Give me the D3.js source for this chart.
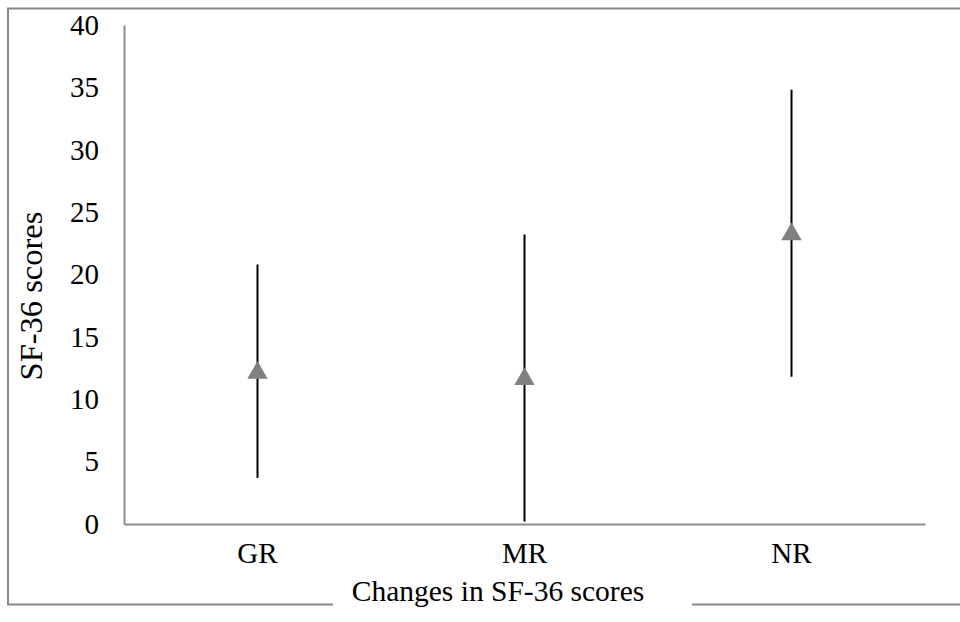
<!DOCTYPE html>
<html>
  <head>
    <script src="https://d3js.org/d3.v7.min.js"></script>
    <title>Changes in SF-36 scores</title>
    <style>
      body { margin: 0; background: #fff; }
      svg text { font-family: 'Liberation Serif', 'Times New Roman', Times, 'DejaVu Serif', serif !important; fill: #000; }
    </style>
  </head>
  <body>
  <svg width="960" height="622"></svg>

  <script>
      // data
      var groups = ['GR', 'MR', 'NR'];
      var means = [12.2, 11.7, 23.3];
      var lows = [3.7, 0.2, 11.8];
      var highs = [20.8, 23.2, 34.8];
      var yTicks = [0, 5, 10, 15, 20, 25, 30, 35, 40];

      var svg = d3.select('svg');
      var margin = { left: 124, right: 35, top: 25, bottom: 98 };
      var w = 960, h = 622;
      var innerWidth = w - margin.left - margin.right;
      var innerHeight = h - margin.top - margin.bottom;
      var fs = 29;

      // outer frame (right edge runs past the window)
      var frame = svg.append('g')
        .attr('stroke', '#888')
        .attr('stroke-width', 2)
        .attr('fill', 'none');
      frame.append('path').attr('d', 'M333,604.5 H8 V8.5 H1000');
      frame.append('path').attr('d', 'M692,604.5 H1000');

      var g = svg.append('g')
        .attr('transform', `translate (${margin.left}, ${margin.top})`);

      var xScale = d3.scaleBand()
        .domain(groups)
        .range([0, innerWidth]);

      var yScale = d3.scaleLinear()
        .domain([0, 40])
        .range([innerHeight, 0]);

      var yAxis = d3.axisLeft(yScale)
        .tickValues(yTicks)
        .tickSize(0)
        .tickPadding(25);

      var xAxis = d3.axisBottom(xScale)
        .tickSize(0)
        .tickPadding(18);

      g.append('g')
        .attr('class', 'yAxis')
        .call(yAxis)
        .attr('font-size', fs)
        .call(a => a.select('.domain').attr('stroke', '#8c8c8c').attr('stroke-width', 2));

      g.append('g')
        .attr('class', 'xAxis')
        .attr('transform', `translate (0, ${innerHeight})`)
        .call(xAxis)
        .attr('font-size', fs)
        .call(a => a.select('.domain').attr('stroke', '#8c8c8c').attr('stroke-width', 2));

      var rows = groups.map((d, i) => ({ g: d, mean: means[i], lo: lows[i], hi: highs[i] }));

      // error bars
      g.selectAll('line.err')
        .data(rows)
        .enter().append('line')
        .attr('class', 'err')
        .attr('x1', d => xScale(d.g) + xScale.bandwidth() / 2)
        .attr('x2', d => xScale(d.g) + xScale.bandwidth() / 2)
        .attr('y1', d => yScale(d.lo))
        .attr('y2', d => yScale(d.hi))
        .attr('stroke', '#000')
        .attr('stroke-width', 2);

      // triangle markers
      var tri = d3.symbol().type(d3.symbolTriangle).size(180);
      g.selectAll('path.mark')
        .data(rows)
        .enter().append('path')
        .attr('class', 'mark')
        .attr('d', tri)
        .attr('transform', d => `translate(${xScale(d.g) + xScale.bandwidth() / 2}, ${yScale(d.mean) + 1})`)
        .attr('fill', '#808080');

      // axis titles
      svg.append('text')
        .attr('x', 498)
        .attr('y', 601)
        .attr('font-size', 29.5)
        .style('text-anchor', 'middle')
        .text('Changes in SF-36 scores');

      svg.append('text')
        .attr('transform', 'translate(42, 296) rotate(-90)')
        .attr('font-size', 32.5)
        .style('text-anchor', 'middle')
        .text('SF-36 scores');
  </script>
  </body>
</html>
